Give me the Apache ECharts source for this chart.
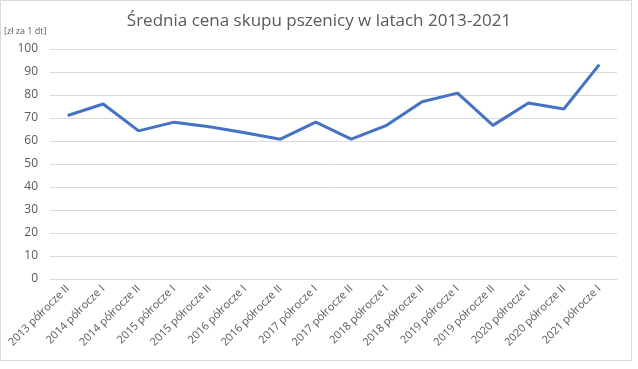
<!DOCTYPE html>
<html><head><meta charset="utf-8">
<script src="https://cdn.jsdelivr.net/npm/echarts@6/dist/echarts.min.js"></script>
<style>html,body{margin:0;padding:0;background:#fff}#c{width:638px;height:369px}</style>
</head><body><div id="c"></div>
<script>
const categories = ["2013 półrocze II","2014 półrocze I","2014 półrocze II","2015 półrocze I","2015 półrocze II","2016 półrocze I","2016 półrocze II","2017 półrocze I","2017 półrocze II","2018 półrocze I","2018 półrocze II","2019 półrocze I","2019 półrocze II","2020 półrocze I","2020 półrocze II","2021 półrocze I"];
const prices = [71.1, 76.1, 64.4, 68.2, 66.2, 63.6, 60.8, 68.2, 60.8, 66.8, 77.1, 80.8, 66.8, 76.5, 73.9, 93.2];
const yTicks = [0,10,20,30,40,50,60,70,80,90,100];
const titleText = "Średnia cena skupu pszenicy w latach 2013-2021";
const unitText = "[zł za 1 dt]";

const chart = echarts.init(document.getElementById('c'), null, {renderer:'canvas'});
const font = "'Open Sans', 'Liberation Sans', sans-serif";
chart.setOption({
  animation:false,
  textStyle:{fontFamily:font},
  graphic:[
    {type:'rect', shape:{x:0.5,y:0.5,width:631,height:360}, style:{fill:'none', stroke:'#d9d9d9', lineWidth:1}, silent:true},
    {type:'text', left:4, top:27, style:{text:unitText, fill:'#595959', font:"9px "+font}}
  ],
  title:{text:titleText, left:'center', top:8, textStyle:{color:'#595959', fontSize:17, fontWeight:'normal', fontFamily:font}},
  grid:{left:50, right:21, top:49, bottom:90, containLabel:false},
  xAxis:{type:'category', data:categories, boundaryGap:true,
    axisLine:{show:true, lineStyle:{color:'#d9d9d9'}}, axisTick:{show:false},
    axisLabel:{rotate:45, interval:0, color:'#595959', fontSize:11, margin:8, fontFamily:font}},
  yAxis:{type:'value', min:yTicks[0], max:yTicks[yTicks.length-1], interval:10,
    axisLine:{show:false}, axisTick:{show:false},
    splitLine:{lineStyle:{color:'#d9d9d9', width:1}},
    axisLabel:{color:'#595959', fontSize:12, margin:12, fontFamily:font}},
  series:[{type:'line', data:prices, symbol:'none', lineStyle:{color:'#4472C4', width:3}, itemStyle:{color:'#4472C4'}}]
});
</script></body></html>
